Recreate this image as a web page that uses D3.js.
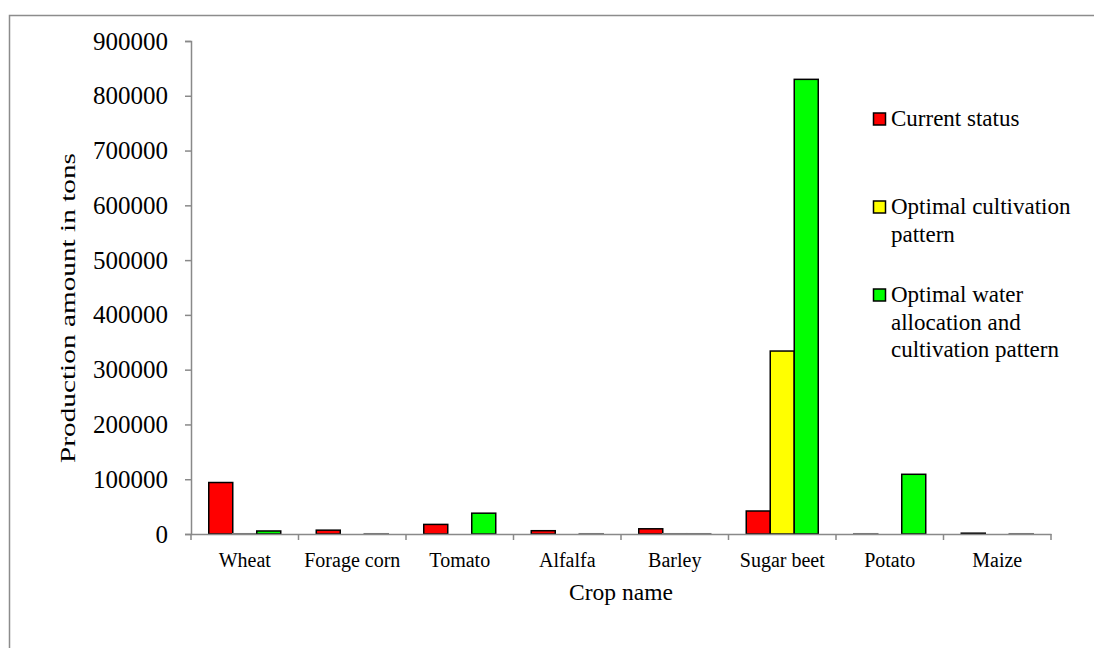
<!DOCTYPE html>
<html>
<head>
<meta charset="utf-8">
<script src="https://cdn.jsdelivr.net/npm/d3@7"></script>
<style>
  html, body { margin: 0; padding: 0; background: #fff; }
  svg { display: block; }
  svg text { font-family: "Liberation Serif", "Times New Roman", serif; fill: #000; }
  .axis path, .axis line { stroke: #898989; stroke-width: 1.5px; }
</style>
</head>
<body>
<div id="chart"></div>
<script>
// Crop production chart, three scenarios per crop.

const crops = ["Wheat", "Forage corn", "Tomato", "Alfalfa", "Barley", "Sugar beet", "Potato", "Maize"];
const seriesNames = [
  "Current status",
  "Optimal cultivation pattern",
  "Optimal water allocation and cultivation pattern"
];
const currentStatus = [94000, 7000, 17500, 6000, 9500, 42000, 500, 1500];
const optimalCultivation = [500, 0, 0, 0, 500, 334000, 0, 0];
const optimalWaterAndCultivation = [5500, 500, 38000, 500, 500, 830000, 109000, 500];
const yTicks = [0, 100000, 200000, 300000, 400000, 500000, 600000, 700000, 800000, 900000];
const legendLines = [
  ["Current status"],
  ["Optimal cultivation", "pattern"],
  ["Optimal water", "allocation and", "cultivation pattern"]
];
const colors = ["#ff0000", "#ffff00", "#00ff00"];

const seriesValues = [currentStatus, optimalCultivation, optimalWaterAndCultivation];

const width = 1094;
const height = 648;

const svg = d3.select("#chart")
  .append("svg")
  .attr("width", width)
  .attr("height", height);

// outer chart frame (runs off the right and bottom edges)
svg.append("path")
  .attr("d", "M9.5," + (height + 5) + "V15.5H" + (width + 5))
  .attr("fill", "none")
  .attr("stroke", "#8c8c8c")
  .attr("stroke-width", 1.5);

const xScale = d3.scaleBand()
  .domain(crops)
  .range([191, 1051])
  .paddingInner(0)
  .paddingOuter(0);

const xInner = d3.scaleBand()
  .domain(d3.range(seriesNames.length))
  .range([0, xScale.bandwidth()])
  .paddingInner(0)
  .paddingOuter(0.74);

const yScale = d3.scaleLinear()
  .domain([0, 900000])
  .range([534, 41]);

// y axis
const yAxis = svg.append("g")
  .attr("class", "axis")
  .attr("transform", "translate(191,0)")
  .call(d3.axisLeft(yScale).tickValues(yTicks).tickSize(6).tickPadding(17).tickFormat(d3.format("d")));
yAxis.attr("font-family", null);
yAxis.selectAll("text").attr("font-size", 25);

// bars
const data = crops.map(function buildGroup(crop, i) {
  return {
    crop: crop,
    values: seriesValues.map(function pick(series, s) {
      return { series: s, value: series[i] };
    })
  };
});

const groups = svg.selectAll(".crop-group")
  .data(data)
  .enter()
  .append("g")
  .attr("class", "crop-group")
  .attr("transform", function moveGroup(d) {
    return "translate(" + xScale(d.crop) + ",0)";
  });

groups.selectAll("rect")
  .data(function getValues(d) { return d.values.filter(function nonZero(v) { return v.value > 0; }); })
  .enter()
  .append("rect")
  .attr("x", function barX(d) { return xInner(d.series); })
  .attr("y", function barY(d) { return yScale(d.value); })
  .attr("width", xInner.bandwidth())
  .attr("height", function barH(d) { return yScale(0) - yScale(d.value); })
  .attr("fill", function barFill(d) { return colors[d.series]; })
  .attr("stroke", function barStroke(d) { return d.value < 1000 ? "#777" : "#000"; })
  .attr("stroke-width", 1.5);

// x axis
const xAxis = svg.append("g")
  .attr("class", "axis")
  .attr("transform", "translate(0,534)")
  .call(d3.axisBottom(xScale).tickSize(0).tickPadding(19));
xAxis.attr("font-family", null);
xAxis.selectAll("text").attr("font-size", 20);

// category boundary ticks
xAxis.selectAll(".bound")
  .data(crops.concat(["end"]))
  .enter()
  .append("line")
  .attr("class", "bound")
  .attr("x1", function tickX(d, i) { return xScale.range()[0] + i * xScale.step(); })
  .attr("x2", function tickX(d, i) { return xScale.range()[0] + i * xScale.step(); })
  .attr("y1", 0)
  .attr("y2", 6);

// axis titles
svg.append("text")
  .attr("x", 621)
  .attr("y", 600)
  .attr("text-anchor", "middle")
  .attr("font-size", 23.5)
  .text("Crop name");

svg.append("text")
  .attr("transform", "translate(75,308) rotate(-90)")
  .attr("text-anchor", "middle")
  .attr("font-size", 22)
  .attr("textLength", 310)
  .attr("lengthAdjust", "spacingAndGlyphs")
  .text("Production amount in tons");

// legend
const legendTops = [126, 214, 302];
const legend = svg.selectAll(".legend-item")
  .data(legendLines)
  .enter()
  .append("g")
  .attr("class", "legend-item")
  .attr("transform", function placeItem(d, i) { return "translate(873," + legendTops[i] + ")"; });

legend.append("rect")
  .attr("x", 0.5)
  .attr("y", -13)
  .attr("width", 12)
  .attr("height", 12)
  .attr("fill", function swatch(d, i) { return colors[i]; })
  .attr("stroke", "#000")
  .attr("stroke-width", 1.5);

legend.each(function writeLines(lines) {
  const text = d3.select(this).append("text")
    .attr("x", 18)
    .attr("y", 0)
    .attr("font-size", 23);
  lines.forEach(function addLine(line, j) {
    text.append("tspan")
      .attr("x", 18)
      .attr("y", j * 27.5)
      .text(line);
  });
});
</script>
</body>
</html>
